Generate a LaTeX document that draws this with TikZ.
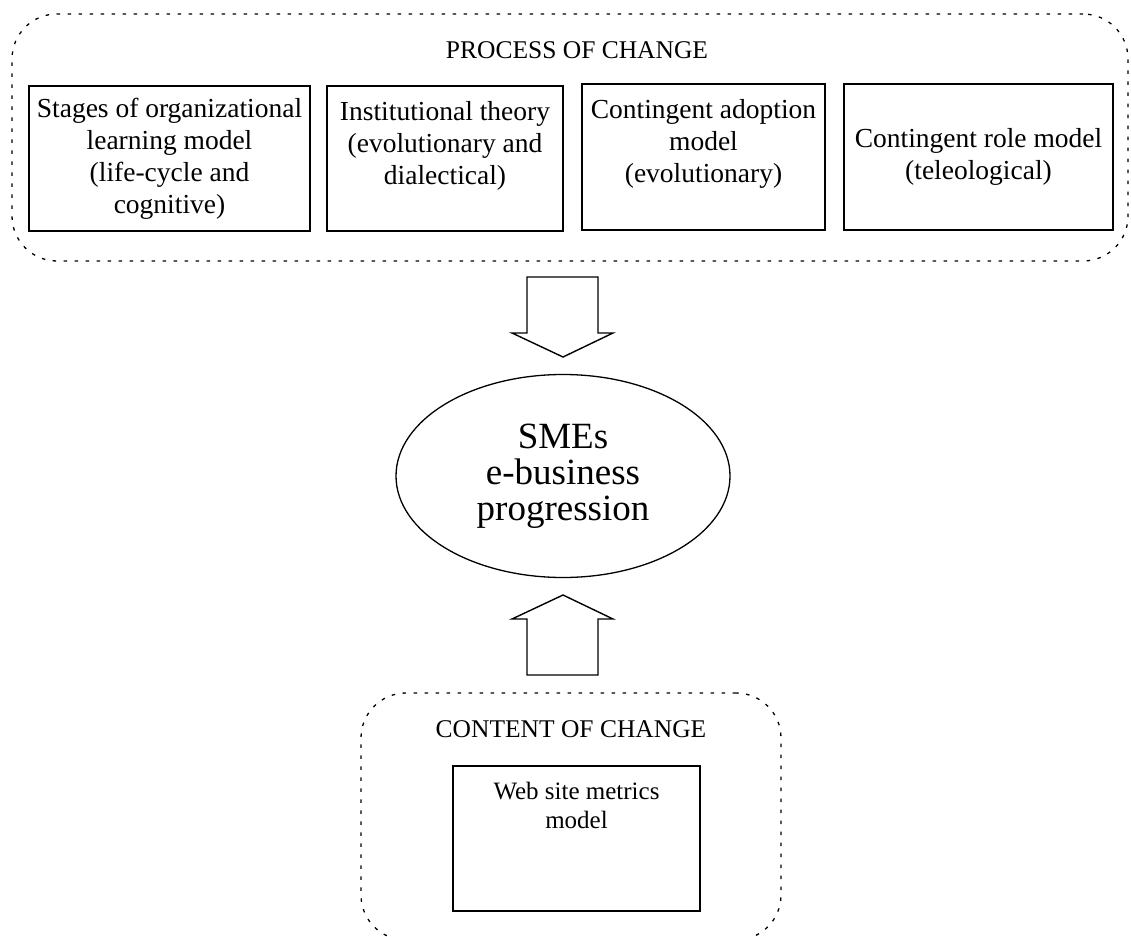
\documentclass[tikz,border=0pt]{standalone}
\usepackage{fontspec}
\setmainfont{Liberation Serif}
\usetikzlibrary{shapes.geometric}
\begin{document}
\begin{tikzpicture}[x=1pt,y=-1pt,
  dotbox/.style={draw, dash pattern=on 3.5pt off 7.5pt, line width=1.3pt, rounded corners=45pt, inner sep=0pt},
  modelbox/.style={draw, line width=1.5pt, inner sep=2pt, align=center, font=\fontsize{27.5}{32}\selectfont},
  heading/.style={font=\fontsize{25.5}{30}\selectfont, anchor=base, inner sep=0pt},
  blockarrow/.style={draw, line width=1.4pt, line join=miter}]
\useasboundingbox (0,0) rectangle (1131,936);
% process of change
\node[dotbox, minimum width=1116pt, minimum height=247pt] (proc) at (570,137.5) {};
\node[heading] (proct) at (577,59) {PROCESS OF CHANGE};
\node[modelbox, minimum width=281pt, minimum height=145pt] (m1) at (169.5,158.5)
  {Stages of organizational\\learning model\\(life-cycle and\\cognitive)};
\node[modelbox, minimum width=236pt, minimum height=145pt] (m2) at (445,158.5)
  {Institutional theory\\(evolutionary and\\dialectical)\\\mbox{}};
\node[modelbox, minimum width=243pt, minimum height=146pt] (m3) at (703.5,157)
  {Contingent adoption\\model\\(evolutionary)\\\mbox{}};
\node[modelbox, minimum width=269pt, minimum height=146pt] (m4) at (978.5,157)
  {Contingent role model\\(teleological)};
% central ellipse
\node[draw, ellipse, line width=1.3pt, minimum width=334pt, minimum height=203pt, inner sep=0pt,
  align=center, font=\fontsize{37}{36}\selectfont] (sme) at (563,476) {SMEs\\e-business\\progression};
% block arrows
\draw[blockarrow] (527,277) -- (598,277) -- (598,333) -- (613,333) -- (563,357) -- (512,333) -- (527,333) -- cycle;
\draw[blockarrow] (527,675) -- (598,675) -- (598,619) -- (613,619) -- (563,595) -- (512,619) -- (527,619) -- cycle;
% content of change
\node[dotbox, minimum width=420pt, minimum height=247pt] (cont) at (571,816.5) {};
\node[heading] (contt) at (571,737) {CONTENT OF CHANGE};
\node[modelbox, font=\fontsize{25}{29}\selectfont, minimum width=247pt, minimum height=145pt] (web) at (576.5,838.5)
  {Web site metrics\\model\\\strut\\\strut};
\end{tikzpicture}
\end{document}
